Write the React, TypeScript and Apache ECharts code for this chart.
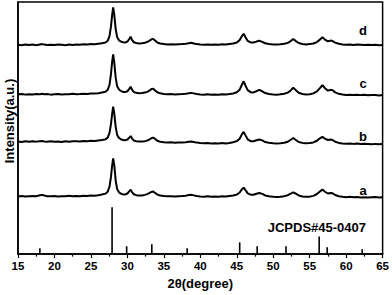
import React, { useEffect, useRef } from "react";
import * as echarts from "echarts";

// 2θ sample positions (degrees), shared by the four patterns
const twoTheta = [
  15, 15.5, 16, 16.5, 17, 17.5, 18, 18.3, 18.6, 19,
  19.5, 20, 20.5, 21, 21.5, 22, 22.5, 23, 23.5, 24,
  24.5, 25, 25.5, 26, 26.5, 27, 27.3, 27.55, 27.75, 27.9,
  28.05, 28.2, 28.4, 28.6, 28.85, 29.1, 29.4, 29.7, 30.0, 30.25,
  30.45, 30.65, 30.9, 31.2, 31.6, 32, 32.4, 32.8, 33.1, 33.35,
  33.55, 33.8, 34.1, 34.5, 35, 35.5, 36, 36.5, 37, 37.5,
  38, 38.4, 38.75, 39.1, 39.5, 40, 40.5, 41, 41.5, 42,
  42.5, 43, 43.5, 44, 44.5, 45, 45.4, 45.7, 45.95, 46.2,
  46.5, 46.9, 47.3, 47.7, 48.1, 48.5, 48.9, 49.4, 50, 50.5,
  51, 51.5, 52, 52.4, 52.75, 53.1, 53.5, 54, 54.5, 55,
  55.5, 56, 56.4, 56.75, 57.1, 57.5, 57.85, 58.15, 58.5, 59,
  59.5, 60, 60.5, 61, 61.5, 62, 62.5, 63, 63.5, 64, 64.5, 65,
];

// intensities (a.u.) above each pattern's own baseline
const patternA = [
  0, 0.4, -0.1, 0.3, 0.5, 0.2, 1.2, 1.6, 0.9, 0.3,
  0.1, 0.5, -0.1, 0.3, 0.1, 0.6, 0.2, 0.4, 0.1, 0.7,
  0.4, 0.9, 0.8, 1.3, 2.0, 2.9, 4.8, 10, 20, 31,
  39, 32, 16, 7.5, 4.2, 2.9, 2.1, 2, 3, 5.2,
  7, 4.2, 2.2, 1.3, 0.9, 1.0, 1.6, 2.6, 3.8, 4.8,
  5, 3.6, 2, 0.9, 0.4, 0.1, 0.3, -0.1, 0.2, 0.4,
  0.8, 1.4, 1.7, 1.1, 0.4, 0, -0.3, 0.1, -0.2, 0,
  -0.3, 0.2, -0.1, 0.4, 0.9, 1.9, 4, 7.3, 9, 6.5,
  3.2, 1.8, 1.7, 2.8, 3.6, 2.6, 1, 0.2, -0.3, -0.5,
  -0.2, 0.3, 1.3, 2.8, 4.2, 2.8, 1, 0, -0.4, -0.2,
  0.6, 2.5, 5, 7, 4.8, 3, 3.6, 3.2, 1.5, 0.2,
  -0.4, -0.7, -0.4, -0.9, -0.6, -1, -0.7, -1.1, -0.8, -0.6, -1, -0.8,
];
const patternB = [
  0.3, -0.2, 0.4, 0, 0.5, 0.1, 0.6, 0.8, 0.3, -0.1,
  0.4, 0, 0.3, -0.2, 0.5, 0.1, 0.4, 0.6, 0.2, 0.8,
  0.5, 0.9, 0.7, 1.2, 1.7, 2.4, 4.3, 9, 18, 28,
  36, 29, 15, 7, 3.8, 2.6, 1.8, 1.5, 2.2, 4,
  5.8, 3.2, 1.2, 0.6, 0.2, 0.3, 0.6, 1.4, 2.6, 3.8,
  4.2, 2.8, 1, 0, -0.5, -0.8, -0.6, -1.0, -0.8, -0.7,
  -0.5, 0, 0.3, -0.2, -0.9, -1.4, -1.6, -1.3, -1.8, -1.5,
  -1.9, -1.4, -1.7, -1.2, -0.6, 0.6, 3, 7.5, 10, 6.5,
  2.5, 0.6, 0.5, 1.5, 2.2, 1.4, -0.3, -1.1, -1.6, -1.9,
  -1.5, -1, 0, 2, 3.8, 1.8, -0.3, -1.2, -1.6, -1.3,
  -0.7, 1, 3.5, 5, 3, 1.8, 2.2, 1.8, 0, -1.2,
  -1.8, -2.1, -1.7, -2.2, -1.9, -2.4, -2, -2.3, -2.6, -2.2, -2.5, -2.3,
];
const patternC = [
  0.2, 0.6, -0.1, 0.4, 0.1, 0.5, 0.3, 0.8, 0.2, 0.5,
  -0.1, 0.3, 0.6, 0, 0.4, 0.2, 0.7, 0.3, 0.5, 0.9,
  0.6, 1.1, 1.0, 1.4, 2.0, 2.8, 4.8, 10, 21, 33,
  41, 33, 17, 8.5, 5.2, 3.7, 2.7, 2.5, 3.3, 5.8,
  8, 4.8, 2.5, 1.8, 1.3, 1.5, 2.0, 3.0, 4.5, 5.8,
  6, 4.2, 2.3, 1.2, 0.6, 0.3, 0.5, 0.1, 0.4, 0.5,
  0.9, 1.3, 1.7, 1.2, 0.5, 0.1, -0.2, 0.2, -0.1, 0.1,
  -0.2, 0.3, 0, 0.5, 1.1, 2.3, 5, 10, 13.5, 9,
  4.5, 2.4, 2.2, 3.4, 4.8, 3.3, 1.5, 0.6, 0.1, -0.2,
  0.2, 0.8, 2, 4.2, 7, 4.5, 1.8, 0.6, 0, 0.3,
  1.2, 3.2, 6.5, 9.5, 6.5, 4, 4.8, 4.3, 2.2, 0.7,
  0, -0.4, -0.1, -0.5, -0.2, -0.6, -0.3, -0.7, -0.4, -0.6, -0.9, -0.5,
];
const patternD = [
  0.3, -0.2, 0.5, 0, 0.4, -0.3, 0.6, 0.9, 0.4, 0,
  0.3, -0.1, 0.4, 0.2, -0.2, 0.5, 0.1, 0.6, 0.2, 0.7,
  0.5, 1.0, 0.8, 1.3, 1.8, 2.5, 4.3, 9, 19, 30,
  38.5, 31, 16, 8, 4.8, 3.6, 2.8, 2.6, 3.5, 6,
  8.5, 5, 2.8, 2, 1.6, 1.8, 2.3, 3.3, 4.8, 6,
  6.2, 4.5, 2.6, 1.5, 1.0, 0.6, 0.8, 0.4, 0.7, 0.9,
  1.2, 1.7, 2.2, 1.6, 0.9, 0.5, 0.3, 0.6, 0.2, 0.5,
  0.3, 0.7, 0.5, 1.0, 1.5, 2.6, 5, 9, 11.5, 8,
  4.2, 2.6, 2.5, 3.5, 4.3, 3.2, 1.8, 1.0, 0.6, 0.4,
  0.7, 1.2, 2.2, 4, 6.2, 4, 2, 1, 0.6, 0.9,
  1.5, 3, 5.5, 8, 5.5, 3.8, 4.5, 4, 2.4, 1.2,
  0.6, 0.3, 0.5, 0.1, 0.4, 0.2, -0.1, 0.3, 0, 0.2, -0.2, 0.1,
];

const patternNames = ["a", "b", "c", "d"];
const patternOffsets = [59, 115, 163.3, 214];

// JCPDS#45-0407 reference lines
const refPositions = [18.0, 27.9, 29.9, 33.35, 38.2, 45.4, 47.8, 51.75, 56.3, 57.4, 62.2];
const refHeights = [6, 48, 8, 10, 6, 12, 8, 8, 18, 7, 5];

const xTicks = [15, 20, 25, 30, 35, 40, 45, 50, 55, 60, 65];

const FONT = "'Liberation Sans', Arial, sans-serif";

export default function App() {
  const ref = useRef<HTMLDivElement>(null);
  useEffect(() => {
    if (!ref.current) return;
    const chart = echarts.init(ref.current, null, { renderer: "svg" });
    const patterns = [patternA, patternB, patternC, patternD];
    const lineSeries = patterns.map((p, i) => ({
      name: patternNames[i],
      type: "line",
      data: twoTheta.map((x, k) => [x, p[k] + patternOffsets[i]]),
      symbol: "none",
      lineStyle: { color: "#000", width: 2 },
      smooth: false,
      z: 3,
    }));
    const labelY = [190, 136, 83, 30];
    chart.setOption({
      animation: false,
      grid: {
        left: 18,
        right: 8,
        top: 2,
        bottom: 35,
        show: true,
        borderColor: "#000",
        borderWidth: 1.5,
        backgroundColor: "transparent",
      },
      xAxis: {
        type: "value",
        min: xTicks[0],
        max: xTicks[xTicks.length - 1],
        interval: 5,
        name: "2θ(degree)",
        nameLocation: "middle",
        nameGap: 20,
        nameTextStyle: { fontFamily: FONT, fontWeight: "bold", fontSize: 13, color: "#000" },
        axisLine: { show: true, lineStyle: { color: "#000", width: 1.5 } },
        axisTick: { show: true, inside: false, length: 4, lineStyle: { color: "#000", width: 1.2 } },
        minorTick: { show: true, splitNumber: 2, length: 2.5, lineStyle: { color: "#000", width: 1.2 } },
        axisLabel: { fontFamily: FONT, fontWeight: "bold", fontSize: 11.5, color: "#000", margin: 6 },
        splitLine: { show: false },
      },
      yAxis: {
        type: "value",
        min: 0,
        max: 258,
        axisLine: { show: true, lineStyle: { color: "#000", width: 1.5 } },
        axisTick: { show: false },
        axisLabel: { show: false },
        splitLine: { show: false },
      },
      series: [
        ...lineSeries,
        {
          name: "JCPDS#45-0407",
          type: "bar",
          data: refPositions.map((x, k) => [x, refHeights[k]]),
          barWidth: 1.6,
          itemStyle: { color: "#000" },
          z: 2,
        },
      ],
      graphic: [
        {
          type: "text",
          x: 9,
          y: 121,
          rotation: Math.PI / 2,
          style: {
            text: "Intensity(a.u.)",
            fontFamily: FONT,
            fontWeight: "bold",
            fontSize: 13,
            fill: "#000",
            align: "center",
            verticalAlign: "middle",
          },
        },
        ...patternNames.map((n, i) => ({
          type: "text",
          x: 363,
          y: labelY[i],
          style: {
            text: n,
            fontFamily: FONT,
            fontWeight: "bold",
            fontSize: 13,
            fill: "#000",
            align: "center",
            verticalAlign: "middle",
          },
        })),
        {
          type: "text",
          x: 366,
          y: 227,
          style: {
            text: "JCPDS#45-0407",
            fontFamily: FONT,
            fontWeight: "bold",
            fontSize: 13,
            fill: "#000",
            align: "right",
            verticalAlign: "middle",
          },
        },
      ],
    });
    return () => chart.dispose();
  }, []);
  return <div ref={ref} style={{ width: 392, height: 295, position: "absolute", left: 0, top: 0 }} />;
}
